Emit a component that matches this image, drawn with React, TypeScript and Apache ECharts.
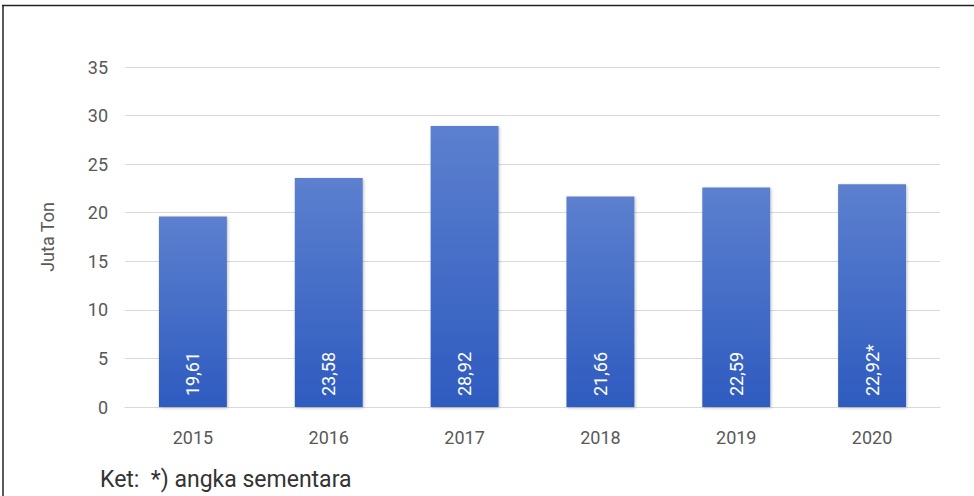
import React, { useEffect, useRef } from "react";
import * as echarts from "echarts";

const categories = ["2015", "2016", "2017", "2018", "2019", "2020"];
const values = [19.61, 23.58, 28.92, 21.66, 22.59, 22.92];
const valueNotes = ["", "", "", "", "", "*"];
const yTicks = [0, 5, 10, 15, 20, 25, 30, 35];
const yAxisName = "Juta Ton";
const footnote = "Ket:  *) angka sementara";

export default function App() {
  const ref = useRef<HTMLDivElement>(null);
  useEffect(() => {
    if (!ref.current) return;
    const chart = echarts.init(ref.current, undefined, { renderer: "svg" });
    chart.setOption({
      animation: false,
      backgroundColor: "#ffffff",
      textStyle: { fontFamily: "Roboto" },
      grid: { left: 125, right: 34, top: 67, bottom: 89, containLabel: false },
      xAxis: {
        type: "category",
        data: categories,
        axisLine: { lineStyle: { color: "#d9d9d9", width: 1 } },
        axisTick: { show: false },
        axisLabel: { color: "#595959", fontSize: 18, margin: 21, fontFamily: "Roboto" },
      },
      yAxis: {
        type: "value",
        min: yTicks[0],
        max: yTicks[yTicks.length - 1],
        interval: 5,
        name: yAxisName,
        nameLocation: "middle",
        nameRotate: 90,
        nameGap: 69,
        nameTextStyle: { color: "#595959", fontSize: 18, fontFamily: "Roboto" },
        axisLine: { show: false },
        axisTick: { show: false },
        axisLabel: { color: "#595959", fontSize: 18, margin: 17, fontFamily: "Roboto" },
        splitLine: { lineStyle: { color: "#d9d9d9", width: 1 } },
      },
      series: [
        {
          type: "bar",
          data: values,
          barWidth: "50%",
          itemStyle: {
            color: new echarts.graphic.LinearGradient(0, 0, 0, 1, [
              { offset: 0, color: "#5c80cf" },
              { offset: 1, color: "#2e5bbf" },
            ]),
            shadowColor: "rgba(0,0,0,0.25)",
            shadowBlur: 3,
            shadowOffsetX: 1,
            shadowOffsetY: 1,
          },
          label: {
            show: true,
            position: "insideBottom",
            rotate: 90,
            align: "left",
            verticalAlign: "middle",
            distance: 11,
            color: "#ffffff",
            fontSize: 18,
            fontFamily: "Roboto",
            formatter: (p: any) =>
              values[p.dataIndex].toFixed(2).replace(".", ",") + valueNotes[p.dataIndex],
          },
        },
      ],
      graphic: [
        {
          type: "line",
          shape: { x1: 2, y1: 5.5, x2: 974, y2: 5.5 },
          style: { stroke: "#222222", lineWidth: 1.5 },
        },
        {
          type: "line",
          shape: { x1: 3, y1: 5, x2: 3, y2: 496 },
          style: { stroke: "#222222", lineWidth: 1.5 },
        },
        {
          type: "text",
          x: 100,
          y: 479,
          style: {
            text: footnote,
            fill: "#333333",
            fontSize: 23,
            fontFamily: "Roboto",
            textVerticalAlign: "middle",
          },
        },
      ],
    });
    return () => chart.dispose();
  }, []);
  return (
    <div
      ref={ref}
      style={{ position: "absolute", left: 0, top: 0, width: 974, height: 496 }}
    />
  );
}
